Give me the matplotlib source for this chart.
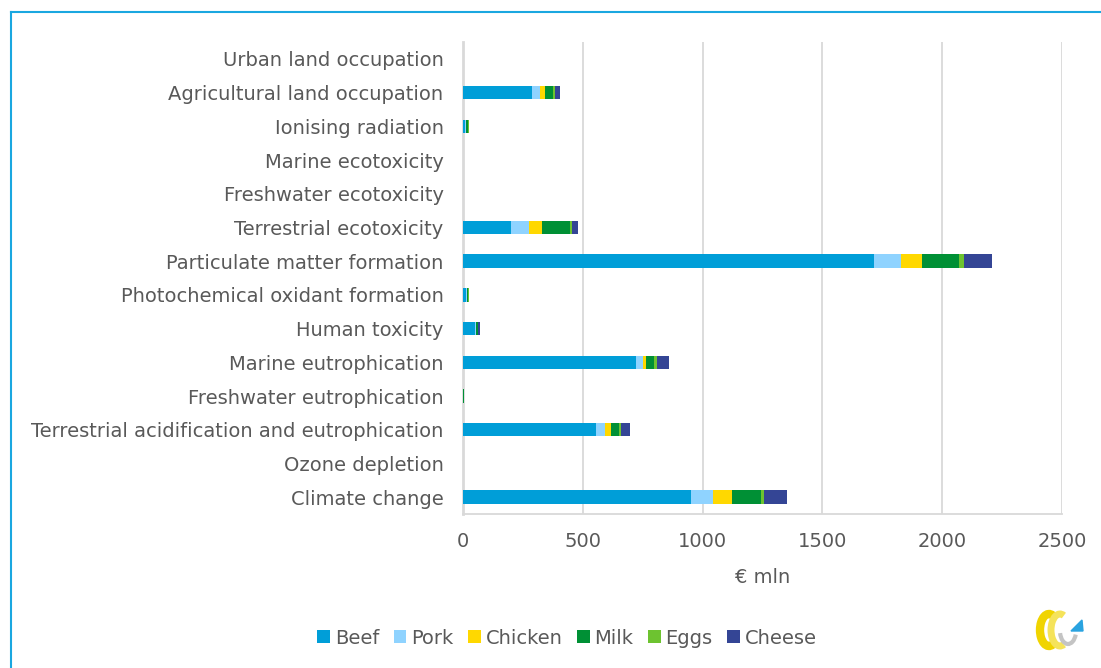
import matplotlib.pyplot as plt
import numpy as np
from matplotlib.patches import Arc, Polygon

plt.rcParams['font.family'] = ['DejaVu Sans']

categories = ['Urban land occupation', 'Agricultural land occupation', 'Ionising radiation',
              'Marine ecotoxicity', 'Freshwater ecotoxicity', 'Terrestrial ecotoxicity',
              'Particulate matter formation', 'Photochemical oxidant formation', 'Human toxicity',
              'Marine eutrophication', 'Freshwater eutrophication',
              'Terrestrial acidification and eutrophication', 'Ozone depletion', 'Climate change']

beef    = [0.3, 289, 8, 0.5, 0.5, 200, 1715, 12, 52, 721, 0.5, 557, 0.5, 952]
pork    = [0.1, 33, 4, 0.2, 0.2, 77, 115, 5, 3, 31, 0.2, 35, 0.2, 92]
chicken = [0.1, 20, 1, 0.1, 0.1, 54, 85, 1, 1, 12, 0.1, 24, 0.1, 79]
milk    = [0.2, 35, 9, 0.3, 0.3, 115, 154, 4, 5, 34, 2, 34, 0.3, 120]
eggs    = [0.1, 5, 1, 0.1, 0.1, 7, 20, 1, 3, 10, 0.5, 8, 0.1, 14]
cheese  = [0.1, 24, 1, 0.2, 0.2, 25, 120, 1, 6, 51, 0.2, 41, 0.2, 95]

series = [('Beef', beef, '#009ed8'), ('Pork', pork, '#8fd3ff'), ('Chicken', chicken, '#ffd800'),
          ('Milk', milk, '#009035'), ('Eggs', eggs, '#6dc330'), ('Cheese', cheese, '#344595')]

fig = plt.figure(figsize=(11.01, 6.68), dpi=100)
ax = fig.add_axes([463 / 1101, 1 - 514 / 668, 599 / 1101, 472 / 668])

y = np.arange(len(categories))[::-1]
left = np.zeros(len(categories))
for name, vals, col in series:
    vals = np.array(vals, dtype=float)
    ax.barh(y, vals, left=left, height=0.4, color=col, label=name, zorder=3)
    left += vals

ax.set_xlim(0, 2500)
ax.set_ylim(-0.5, len(categories) - 0.5)
ax.set_xticks(range(0, 2501, 500))
ax.set_yticks(y)
ax.set_yticklabels(categories)
ax.grid(axis='x', color='#d9d9d9', linewidth=1.3, zorder=0)
for s in ['top', 'right']:
    ax.spines[s].set_visible(False)
ax.spines['bottom'].set_color('#d9d9d9')
ax.spines['left'].set_color('#d9d9d9')
ax.spines['left'].set_linewidth(2)
ax.spines['bottom'].set_linewidth(1.3)
ax.tick_params(length=0, labelsize=14, colors='#595959')
ax.tick_params(axis='y', pad=14)
ax.tick_params(axis='x', pad=13)
ax.set_xlabel('€ mln', fontsize=14, color='#595959', labelpad=12)

fig.legend(loc='center', bbox_to_anchor=(567 / 1101, 1 - 638 / 668), ncol=6, frameon=False,
           fontsize=14, handlelength=0.65, handleheight=0.65, handletextpad=0.25,
           columnspacing=0.75, labelcolor='#595959')

# frame lines along the top and left
fig.add_artist(plt.Line2D([11 / 1101, 11 / 1101], [0, 1 - 12 / 668], color='#1aa7e0', lw=1.5))
fig.add_artist(plt.Line2D([11 / 1101, 1], [1 - 12 / 668, 1 - 12 / 668], color='#1aa7e0', lw=1.5))

# small logo, bottom right
lax = fig.add_axes([1030 / 1101, 1 - 662 / 668, 60 / 1101, 60 / 668])
lax.set_xlim(0, 60)
lax.set_ylim(0, 60)
lax.axis('off')
lax.add_patch(Arc((19, 32), 18, 32, theta1=75, theta2=285, lw=6, color='#f0d400'))
lax.add_patch(Arc((30, 32), 18, 32, theta1=75, theta2=285, lw=5, color='#f5e35a'))
lax.add_patch(Arc((38, 31), 16, 26, theta1=195, theta2=335, lw=3, color='#c4c4c4'))
lax.add_patch(Polygon([[41, 31], [52, 42], [53, 31]], closed=True, color='#2aa3e0'))

fig.savefig('out.png', dpi=100)
